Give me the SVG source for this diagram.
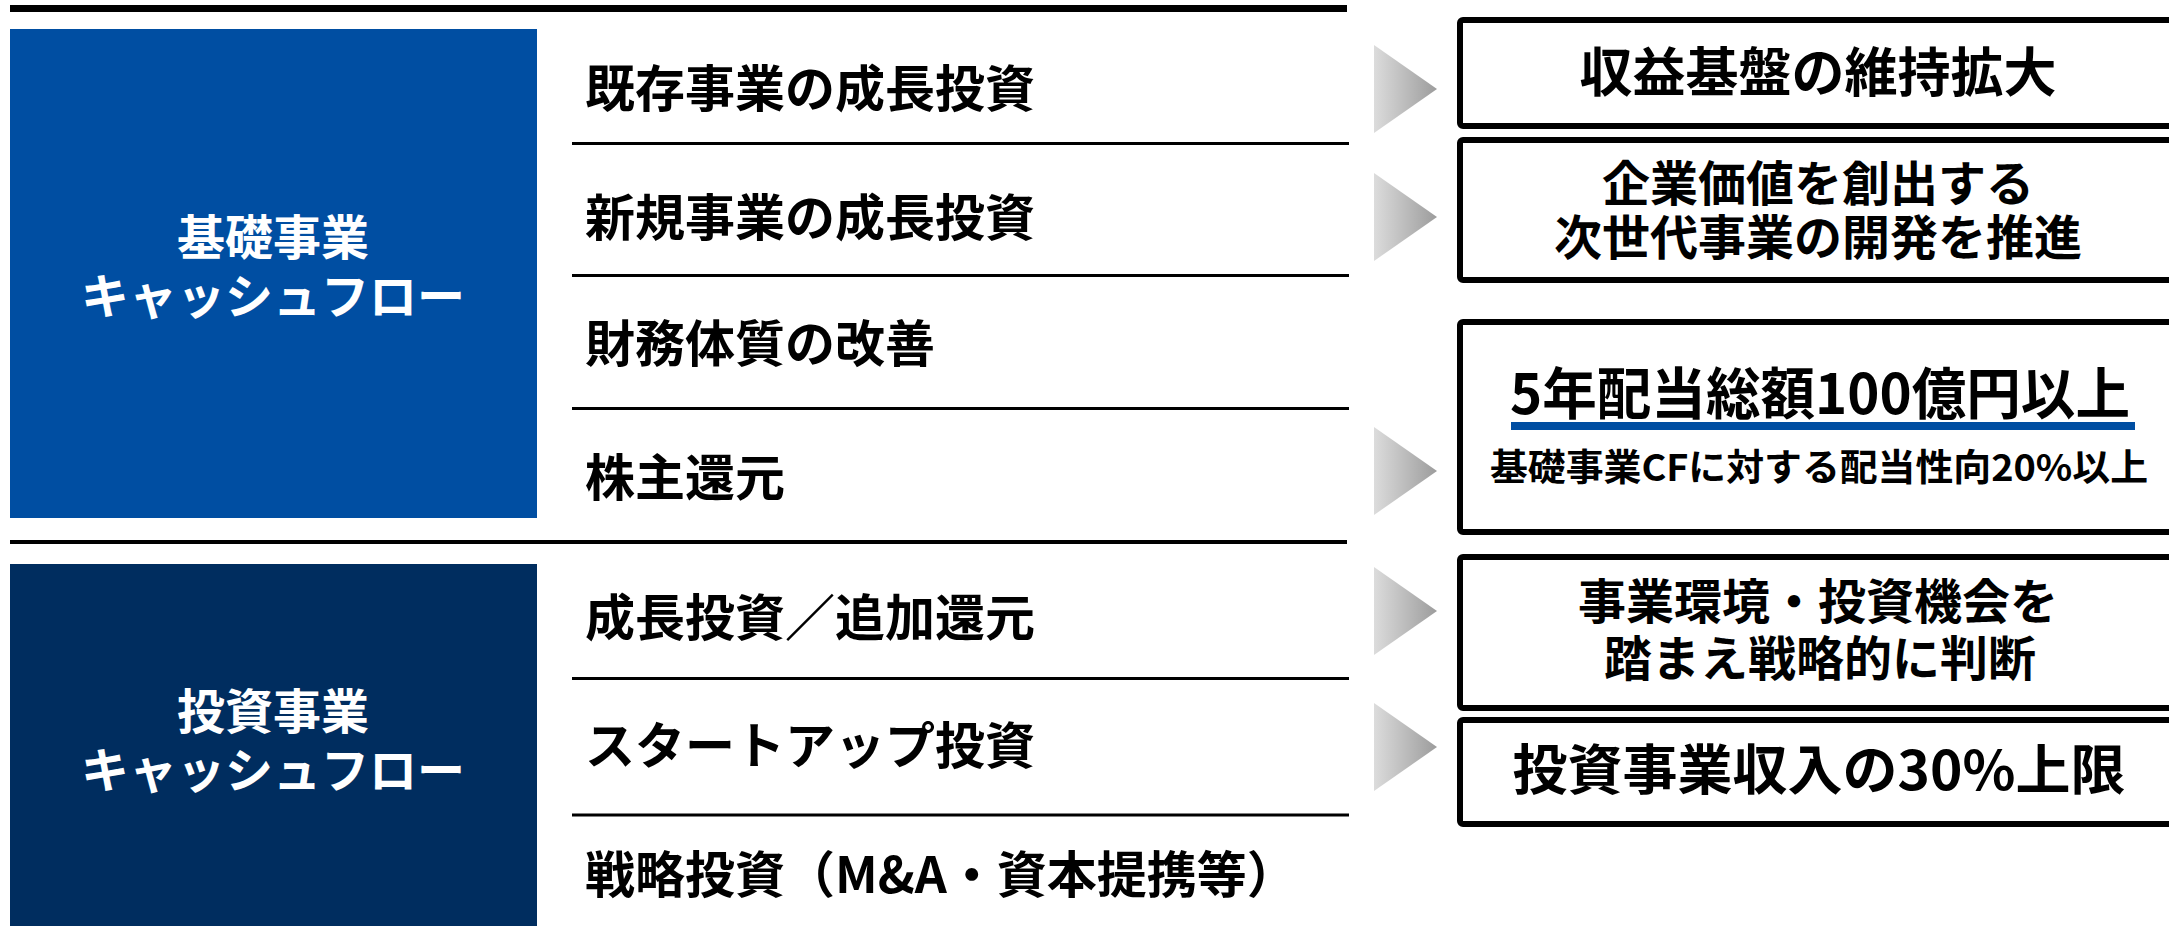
<svg xmlns="http://www.w3.org/2000/svg" width="2169" height="926" viewBox="0 0 2169 926">
<defs>
<linearGradient id="arrowGrad" x1="0" y1="0" x2="1" y2="0">
<stop offset="0" stop-color="#dcdcdc"/>
<stop offset="1" stop-color="#9c9c9c"/>
</linearGradient>
<style>
text{font-family:"Noto Sans CJK JP","Noto Sans",sans-serif;font-weight:700;}
.row{font-size:50px;fill:#000;}
.hdr{font-size:48px;fill:#fff;text-anchor:middle;}
.box{fill:#fff;stroke:#000;stroke-width:6;}
.bt{fill:#000;text-anchor:middle;}
.div{stroke:#000;stroke-width:3;}
.arr{fill:url(#arrowGrad);}
</style>
</defs>
<rect width="2169" height="926" fill="#fff"/>
<g id="bars">
<rect x="10" y="5" width="1337" height="7" fill="#000"/>
<rect x="10" y="540" width="1337" height="4" fill="#000"/>
<line class="div" x1="572" y1="143.5" x2="1349" y2="143.5"/>
<line class="div" x1="572" y1="275.5" x2="1349" y2="275.5"/>
<line class="div" x1="572" y1="408.5" x2="1349" y2="408.5"/>
<line class="div" x1="572" y1="678.5" x2="1349" y2="678.5"/>
<line class="div" x1="572" y1="815" x2="1349" y2="815"/>
</g>
<g id="basic-cf">
<rect x="10" y="29" width="527" height="489" fill="#004EA2"/>
<text class="hdr" x="273" y="255">基礎事業</text>
<text class="hdr" x="273" y="314">キャッシュフロー</text>
</g>
<g id="invest-cf">
<rect x="10" y="564" width="527" height="362" fill="#002D5F"/>
<text class="hdr" x="273" y="729">投資事業</text>
<text class="hdr" x="273" y="788">キャッシュフロー</text>
</g>
<g id="row-existing"><text class="row" x="585" y="107">既存事業の成長投資</text></g>
<g id="row-new"><text class="row" x="585" y="236">新規事業の成長投資</text></g>
<g id="row-finance"><text class="row" x="585" y="362">財務体質の改善</text></g>
<g id="row-return"><text class="row" x="585" y="496">株主還元</text></g>
<g id="row-growth"><text class="row" x="585" y="636">成長投資／追加還元</text></g>
<g id="row-startup"><text class="row" x="585" y="764">スタートアップ投資</text></g>
<g id="row-strategic"><text class="row" x="585" y="893">戦略投資（M&amp;A・資本提携等）</text></g>
<g id="connectors">
<polygon class="arr" points="1374,45 1437,89 1374,133"/>
<polygon class="arr" points="1374,173 1437,217 1374,261"/>
<polygon class="arr" points="1374,427 1437,471 1374,515"/>
<polygon class="arr" points="1374,567 1437,611 1374,655"/>
<polygon class="arr" points="1374,703 1437,747 1374,791"/>
</g>
<g id="box-base">
<rect class="box" x="1460" y="20" width="716" height="106" rx="3"/>
<text class="bt" x="1818" y="92" font-size="53">収益基盤の維持拡大</text>
</g>
<g id="box-next">
<rect class="box" x="1460" y="140" width="716" height="140" rx="3"/>
<text class="bt" x="1818" y="201" font-size="48">企業価値を創出する</text>
<text class="bt" x="1818" y="255" font-size="48">次世代事業の開発を推進</text>
</g>
<g id="box-dividend">
<rect class="box" x="1460" y="322" width="716" height="210" rx="3"/>
<text class="bt" x="1820" y="414" font-size="56" textLength="620" lengthAdjust="spacingAndGlyphs">5年配当総額100億円以上</text>
<rect x="1511" y="422" width="624" height="8" fill="#004EA2"/>
<text class="bt" x="1819" y="481" font-size="37" textLength="658" lengthAdjust="spacingAndGlyphs">基礎事業CFに対する配当性向20%以上</text>
</g>
<g id="box-strategy">
<rect class="box" x="1460" y="557" width="716" height="151" rx="3"/>
<text class="bt" x="1818" y="619" font-size="48">事業環境・投資機会を</text>
<text class="bt" x="1820" y="676" font-size="48">踏まえ戦略的に判断</text>
</g>
<g id="box-cap">
<rect class="box" x="1460" y="720" width="716" height="104" rx="3"/>
<text class="bt" x="1819" y="790" font-size="54" textLength="613" lengthAdjust="spacingAndGlyphs">投資事業収入の30%上限</text>
</g>
</svg>
